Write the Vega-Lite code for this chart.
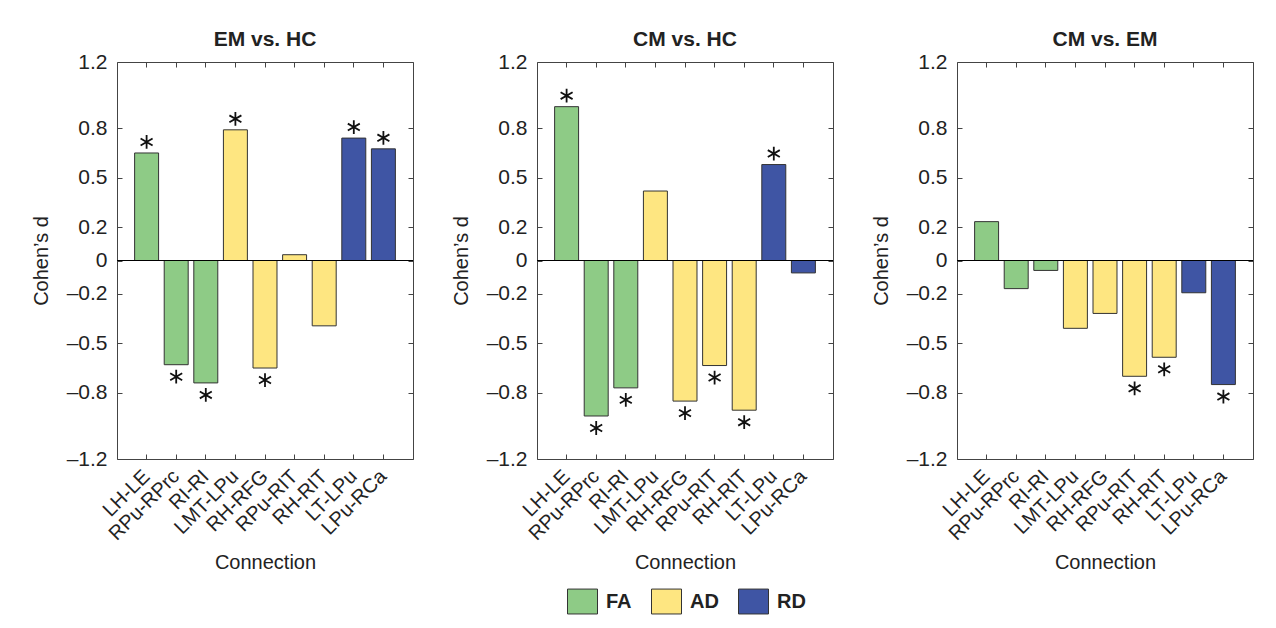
{
  "$schema": "https://vega.github.io/schema/vega-lite/v6.json",
  "padding": {"left": 30, "top": 28, "right": 5, "bottom": 5},
  "background": "white",
  "data": {"values": [
    {"comp": "EM vs. HC", "conn": "LH-LE", "measure": "FA", "d": 0.65, "sig": 1},
    {"comp": "EM vs. HC", "conn": "RPu-RPrc", "measure": "FA", "d": -0.63, "sig": 1},
    {"comp": "EM vs. HC", "conn": "RI-RI", "measure": "FA", "d": -0.74, "sig": 1},
    {"comp": "EM vs. HC", "conn": "LMT-LPu", "measure": "AD", "d": 0.79, "sig": 1},
    {"comp": "EM vs. HC", "conn": "RH-RFG", "measure": "AD", "d": -0.65, "sig": 1},
    {"comp": "EM vs. HC", "conn": "RPu-RIT", "measure": "AD", "d": 0.035, "sig": 0},
    {"comp": "EM vs. HC", "conn": "RH-RIT", "measure": "AD", "d": -0.395, "sig": 0},
    {"comp": "EM vs. HC", "conn": "LT-LPu", "measure": "RD", "d": 0.74, "sig": 1},
    {"comp": "EM vs. HC", "conn": "LPu-RCa", "measure": "RD", "d": 0.675, "sig": 1},
    {"comp": "CM vs. HC", "conn": "LH-LE", "measure": "FA", "d": 0.93, "sig": 1},
    {"comp": "CM vs. HC", "conn": "RPu-RPrc", "measure": "FA", "d": -0.94, "sig": 1},
    {"comp": "CM vs. HC", "conn": "RI-RI", "measure": "FA", "d": -0.77, "sig": 1},
    {"comp": "CM vs. HC", "conn": "LMT-LPu", "measure": "AD", "d": 0.42, "sig": 0},
    {"comp": "CM vs. HC", "conn": "RH-RFG", "measure": "AD", "d": -0.85, "sig": 1},
    {"comp": "CM vs. HC", "conn": "RPu-RIT", "measure": "AD", "d": -0.635, "sig": 1},
    {"comp": "CM vs. HC", "conn": "RH-RIT", "measure": "AD", "d": -0.905, "sig": 1},
    {"comp": "CM vs. HC", "conn": "LT-LPu", "measure": "RD", "d": 0.58, "sig": 1},
    {"comp": "CM vs. HC", "conn": "LPu-RCa", "measure": "RD", "d": -0.075, "sig": 0},
    {"comp": "CM vs. EM", "conn": "LH-LE", "measure": "FA", "d": 0.235, "sig": 0},
    {"comp": "CM vs. EM", "conn": "RPu-RPrc", "measure": "FA", "d": -0.17, "sig": 0},
    {"comp": "CM vs. EM", "conn": "RI-RI", "measure": "FA", "d": -0.06, "sig": 0},
    {"comp": "CM vs. EM", "conn": "LMT-LPu", "measure": "AD", "d": -0.41, "sig": 0},
    {"comp": "CM vs. EM", "conn": "RH-RFG", "measure": "AD", "d": -0.32, "sig": 0},
    {"comp": "CM vs. EM", "conn": "RPu-RIT", "measure": "AD", "d": -0.70, "sig": 1},
    {"comp": "CM vs. EM", "conn": "RH-RIT", "measure": "AD", "d": -0.585, "sig": 1},
    {"comp": "CM vs. EM", "conn": "LT-LPu", "measure": "RD", "d": -0.195, "sig": 0},
    {"comp": "CM vs. EM", "conn": "LPu-RCa", "measure": "RD", "d": -0.75, "sig": 1}
  ]},
  "bounds": "flush",
  "spacing": 124,
  "hconcat": [
    {
      "title": {"text": "EM vs. HC"},
      "width": 296, "height": 397,
      "transform": [{"filter": "datum.comp === 'EM vs. HC'"}],
      "layer": [
        {
          "mark": {"type": "bar", "stroke": "#333", "strokeWidth": 1},
          "encoding": {
            "x": {"field": "conn", "type": "nominal", "sort": ["LH-LE","RPu-RPrc","RI-RI","LMT-LPu","RH-RFG","RPu-RIT","RH-RIT","LT-LPu","LPu-RCa"], "scale": {"paddingInner": 0.19, "paddingOuter": 0.595}, "title": "Connection", "axis": {"orient": "bottom", "labelAngle": -45, "labelAlign": "right", "labelBaseline": "middle", "labelPadding": 19, "titlePadding": 9, "labelFontSize": 20, "titleFontSize": 20}},
            "y": {"field": "d", "type": "quantitative", "scale": {"domain": [-1.2, 1.2], "nice": false, "zero": false}, "title": "Cohen’s d", "axis": {"orient": "left", "values": [-1.2,-0.8,-0.5,-0.2,0,0.2,0.5,0.8,1.2], "labelExpr": "datum.value < 0 ? '–' + format(-datum.value, '~g') : format(datum.value, '~g')", "labelPadding": 15, "titlePadding": 15, "labelFontSize": 21, "titleFontSize": 20}},
            "color": {"field": "measure", "type": "nominal", "scale": {"domain": ["FA","AD","RD"], "range": ["#8ECB86","#FEE681","#3F55A4"]}, "legend": {"orient": "none", "legendX": 450, "legendY": 524, "direction": "horizontal", "title": null}}
          }
        },
        {
          "mark": {"type": "point", "opacity": 0},
          "encoding": {
            "x": {"field": "conn", "type": "nominal", "sort": ["LH-LE","RPu-RPrc","RI-RI","LMT-LPu","RH-RFG","RPu-RIT","RH-RIT","LT-LPu","LPu-RCa"], "axis": {"orient": "top", "labels": false, "title": null}},
            "y": {"field": "d", "type": "quantitative", "axis": {"orient": "right", "labels": false, "title": null, "values": [-1.2,-0.8,-0.5,-0.2,0,0.2,0.5,0.8,1.2]}}
          }
        },
        {
          "mark": {"type": "rule", "color": "#000", "strokeWidth": 1},
          "encoding": {"y": {"datum": 0, "type": "quantitative", "axis": null}}
        },
        {
          "transform": [{"filter": "datum.sig === 1 && datum.d > 0"}],
          "mark": {"type": "point", "shape": "M0,-1L0,1M-0.87,-0.5L0.87,0.5M-0.87,0.5L0.87,-0.5", "filled": false, "stroke": "#111", "strokeWidth": 1.8, "size": 190, "opacity": 1, "yOffset": -11},
          "encoding": {
            "x": {"field": "conn", "type": "nominal", "sort": ["LH-LE","RPu-RPrc","RI-RI","LMT-LPu","RH-RFG","RPu-RIT","RH-RIT","LT-LPu","LPu-RCa"], "axis": null},
            "y": {"field": "d", "type": "quantitative", "axis": null}
          }
        },
        {
          "transform": [{"filter": "datum.sig === 1 && datum.d < 0"}],
          "mark": {"type": "point", "shape": "M0,-1L0,1M-0.87,-0.5L0.87,0.5M-0.87,0.5L0.87,-0.5", "filled": false, "stroke": "#111", "strokeWidth": 1.8, "size": 190, "opacity": 1, "yOffset": 12},
          "encoding": {
            "x": {"field": "conn", "type": "nominal", "sort": ["LH-LE","RPu-RPrc","RI-RI","LMT-LPu","RH-RFG","RPu-RIT","RH-RIT","LT-LPu","LPu-RCa"], "axis": null},
            "y": {"field": "d", "type": "quantitative", "axis": null}
          }
        }
      ],
      "resolve": {"axis": {"x": "independent", "y": "independent"}}
    },
    {
      "title": {"text": "CM vs. HC"},
      "width": 296, "height": 397,
      "transform": [{"filter": "datum.comp === 'CM vs. HC'"}],
      "layer": [
        {
          "mark": {"type": "bar", "stroke": "#333", "strokeWidth": 1},
          "encoding": {
            "x": {"field": "conn", "type": "nominal", "sort": ["LH-LE","RPu-RPrc","RI-RI","LMT-LPu","RH-RFG","RPu-RIT","RH-RIT","LT-LPu","LPu-RCa"], "scale": {"paddingInner": 0.19, "paddingOuter": 0.595}, "title": "Connection", "axis": {"orient": "bottom", "labelAngle": -45, "labelAlign": "right", "labelBaseline": "middle", "labelPadding": 19, "titlePadding": 9, "labelFontSize": 20, "titleFontSize": 20}},
            "y": {"field": "d", "type": "quantitative", "scale": {"domain": [-1.2, 1.2], "nice": false, "zero": false}, "title": "Cohen’s d", "axis": {"orient": "left", "values": [-1.2,-0.8,-0.5,-0.2,0,0.2,0.5,0.8,1.2], "labelExpr": "datum.value < 0 ? '–' + format(-datum.value, '~g') : format(datum.value, '~g')", "labelPadding": 15, "titlePadding": 15, "labelFontSize": 21, "titleFontSize": 20}},
            "color": {"field": "measure", "type": "nominal", "scale": {"domain": ["FA","AD","RD"], "range": ["#8ECB86","#FEE681","#3F55A4"]}, "legend": {"orient": "none", "legendX": 450, "legendY": 524, "direction": "horizontal", "title": null}}
          }
        },
        {
          "mark": {"type": "point", "opacity": 0},
          "encoding": {
            "x": {"field": "conn", "type": "nominal", "sort": ["LH-LE","RPu-RPrc","RI-RI","LMT-LPu","RH-RFG","RPu-RIT","RH-RIT","LT-LPu","LPu-RCa"], "axis": {"orient": "top", "labels": false, "title": null}},
            "y": {"field": "d", "type": "quantitative", "axis": {"orient": "right", "labels": false, "title": null, "values": [-1.2,-0.8,-0.5,-0.2,0,0.2,0.5,0.8,1.2]}}
          }
        },
        {
          "mark": {"type": "rule", "color": "#000", "strokeWidth": 1},
          "encoding": {"y": {"datum": 0, "type": "quantitative", "axis": null}}
        },
        {
          "transform": [{"filter": "datum.sig === 1 && datum.d > 0"}],
          "mark": {"type": "point", "shape": "M0,-1L0,1M-0.87,-0.5L0.87,0.5M-0.87,0.5L0.87,-0.5", "filled": false, "stroke": "#111", "strokeWidth": 1.8, "size": 190, "opacity": 1, "yOffset": -11},
          "encoding": {
            "x": {"field": "conn", "type": "nominal", "sort": ["LH-LE","RPu-RPrc","RI-RI","LMT-LPu","RH-RFG","RPu-RIT","RH-RIT","LT-LPu","LPu-RCa"], "axis": null},
            "y": {"field": "d", "type": "quantitative", "axis": null}
          }
        },
        {
          "transform": [{"filter": "datum.sig === 1 && datum.d < 0"}],
          "mark": {"type": "point", "shape": "M0,-1L0,1M-0.87,-0.5L0.87,0.5M-0.87,0.5L0.87,-0.5", "filled": false, "stroke": "#111", "strokeWidth": 1.8, "size": 190, "opacity": 1, "yOffset": 12},
          "encoding": {
            "x": {"field": "conn", "type": "nominal", "sort": ["LH-LE","RPu-RPrc","RI-RI","LMT-LPu","RH-RFG","RPu-RIT","RH-RIT","LT-LPu","LPu-RCa"], "axis": null},
            "y": {"field": "d", "type": "quantitative", "axis": null}
          }
        }
      ],
      "resolve": {"axis": {"x": "independent", "y": "independent"}}
    },
    {
      "title": {"text": "CM vs. EM"},
      "width": 296, "height": 397,
      "transform": [{"filter": "datum.comp === 'CM vs. EM'"}],
      "layer": [
        {
          "mark": {"type": "bar", "stroke": "#333", "strokeWidth": 1},
          "encoding": {
            "x": {"field": "conn", "type": "nominal", "sort": ["LH-LE","RPu-RPrc","RI-RI","LMT-LPu","RH-RFG","RPu-RIT","RH-RIT","LT-LPu","LPu-RCa"], "scale": {"paddingInner": 0.19, "paddingOuter": 0.595}, "title": "Connection", "axis": {"orient": "bottom", "labelAngle": -45, "labelAlign": "right", "labelBaseline": "middle", "labelPadding": 19, "titlePadding": 9, "labelFontSize": 20, "titleFontSize": 20}},
            "y": {"field": "d", "type": "quantitative", "scale": {"domain": [-1.2, 1.2], "nice": false, "zero": false}, "title": "Cohen’s d", "axis": {"orient": "left", "values": [-1.2,-0.8,-0.5,-0.2,0,0.2,0.5,0.8,1.2], "labelExpr": "datum.value < 0 ? '–' + format(-datum.value, '~g') : format(datum.value, '~g')", "labelPadding": 15, "titlePadding": 15, "labelFontSize": 21, "titleFontSize": 20}},
            "color": {"field": "measure", "type": "nominal", "scale": {"domain": ["FA","AD","RD"], "range": ["#8ECB86","#FEE681","#3F55A4"]}, "legend": {"orient": "none", "legendX": 450, "legendY": 524, "direction": "horizontal", "title": null}}
          }
        },
        {
          "mark": {"type": "point", "opacity": 0},
          "encoding": {
            "x": {"field": "conn", "type": "nominal", "sort": ["LH-LE","RPu-RPrc","RI-RI","LMT-LPu","RH-RFG","RPu-RIT","RH-RIT","LT-LPu","LPu-RCa"], "axis": {"orient": "top", "labels": false, "title": null}},
            "y": {"field": "d", "type": "quantitative", "axis": {"orient": "right", "labels": false, "title": null, "values": [-1.2,-0.8,-0.5,-0.2,0,0.2,0.5,0.8,1.2]}}
          }
        },
        {
          "mark": {"type": "rule", "color": "#000", "strokeWidth": 1},
          "encoding": {"y": {"datum": 0, "type": "quantitative", "axis": null}}
        },
        {
          "transform": [{"filter": "datum.sig === 1 && datum.d > 0"}],
          "mark": {"type": "point", "shape": "M0,-1L0,1M-0.87,-0.5L0.87,0.5M-0.87,0.5L0.87,-0.5", "filled": false, "stroke": "#111", "strokeWidth": 1.8, "size": 190, "opacity": 1, "yOffset": -11},
          "encoding": {
            "x": {"field": "conn", "type": "nominal", "sort": ["LH-LE","RPu-RPrc","RI-RI","LMT-LPu","RH-RFG","RPu-RIT","RH-RIT","LT-LPu","LPu-RCa"], "axis": null},
            "y": {"field": "d", "type": "quantitative", "axis": null}
          }
        },
        {
          "transform": [{"filter": "datum.sig === 1 && datum.d < 0"}],
          "mark": {"type": "point", "shape": "M0,-1L0,1M-0.87,-0.5L0.87,0.5M-0.87,0.5L0.87,-0.5", "filled": false, "stroke": "#111", "strokeWidth": 1.8, "size": 190, "opacity": 1, "yOffset": 12},
          "encoding": {
            "x": {"field": "conn", "type": "nominal", "sort": ["LH-LE","RPu-RPrc","RI-RI","LMT-LPu","RH-RFG","RPu-RIT","RH-RIT","LT-LPu","LPu-RCa"], "axis": null},
            "y": {"field": "d", "type": "quantitative", "axis": null}
          }
        }
      ],
      "resolve": {"axis": {"x": "independent", "y": "independent"}}
    }
  ],
  "config": {
    "font": "Liberation Sans",
    "view": {"stroke": "#444", "strokeWidth": 1},
    "title": {"font": "Liberation Sans", "fontSize": 21, "fontWeight": "bold", "color": "#222", "offset": 1},
    "axis": {"domain": false, "grid": false, "labelFont": "Liberation Sans", "labelFontSize": 20, "labelColor": "#222", "titleFont": "Liberation Sans", "titleFontSize": 20, "titleFontWeight": "normal", "titleColor": "#222", "tickColor": "#444", "tickSize": -5, "tickWidth": 1},
    "legend": {"labelFont": "Liberation Sans", "labelFontSize": 20, "labelFontWeight": "bold", "labelColor": "#222", "symbolType": "M-1,-0.83L1,-0.83L1,0.83L-1,0.83Z", "symbolSize": 900, "symbolStrokeColor": "#333", "symbolStrokeWidth": 1, "symbolOpacity": 1, "labelOffset": 8, "columnPadding": 17, "padding": 0}
  }
}
